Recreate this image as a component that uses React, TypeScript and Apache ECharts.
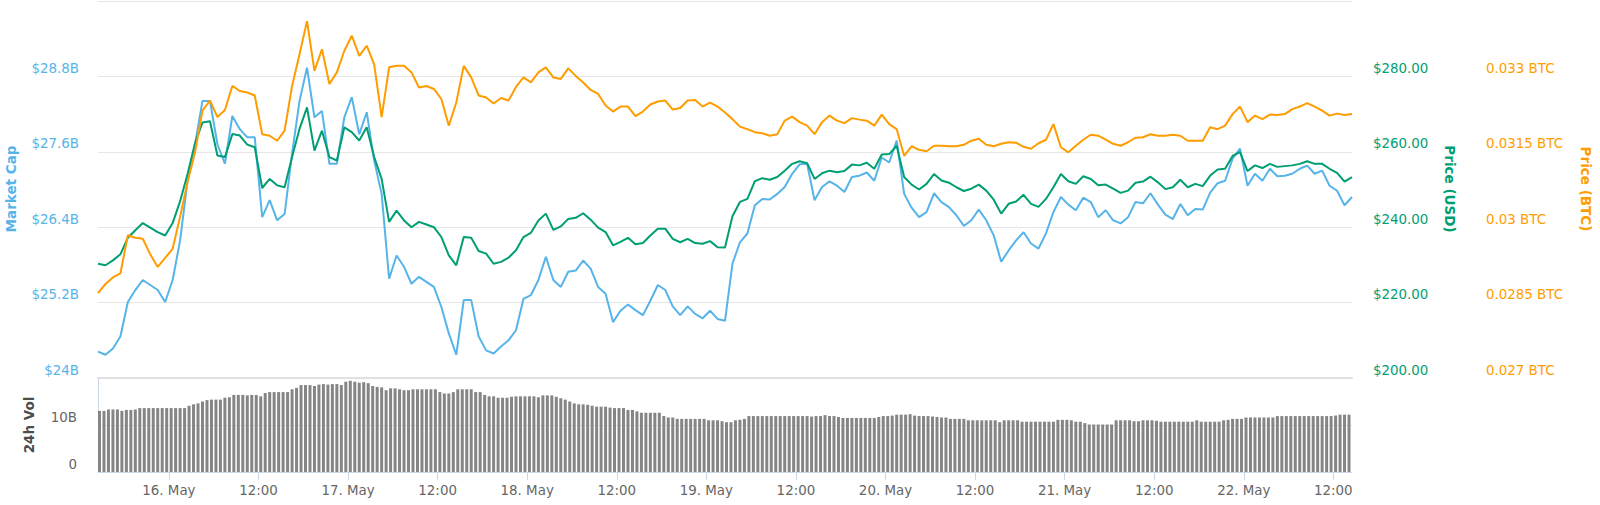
import React, { useEffect, useRef } from "react";
import * as echarts from "echarts";

// x values are hours relative to 16 May 00:00
const LINE_START_HOUR = -9.5;
const LINE_STEP_HOUR = 1;
const VOL_START_HOUR = -9.3;
const VOL_STEP_HOUR = 0.6;
const X_MIN = -9.5;
const X_MAX = 158.5;

const xTickHours = [0, 12, 24, 36, 48, 60, 72, 84, 96, 108, 120, 132, 144, 156];
const xTickLabels = [
  "16. May", "12:00", "17. May", "12:00", "18. May", "12:00", "19. May",
  "12:00", "20. May", "12:00", "21. May", "12:00", "22. May", "12:00",
];

// Market cap, billions USD (hourly)
const marketCap = [
  24.42, 24.37, 24.47, 24.66, 25.21, 25.4, 25.56, 25.48, 25.4, 25.21,
  25.56, 26.19, 27.14, 27.72, 28.41, 28.41, 27.72, 27.41, 28.17, 27.96,
  27.83, 27.83, 26.56, 26.83, 26.51, 26.61, 27.57, 28.41, 28.94, 28.15,
  28.25, 27.41, 27.41, 28.15, 28.47,
  27.88, 28.23, 27.46, 26.93, 25.58, 25.95, 25.77, 25.5, 25.61, 25.53,
  25.45, 25.13, 24.71, 24.37, 25.24, 25.24, 24.66, 24.44, 24.39, 24.5,
  24.6, 24.76, 25.26, 25.32, 25.56, 25.93, 25.56, 25.45, 25.69, 25.71,
  25.87, 25.74, 25.45, 25.34,
  24.89, 25.07, 25.17, 25.08, 25.0, 25.23, 25.48, 25.4, 25.14, 25.0,
  25.14, 25.02, 24.95, 25.07, 24.94, 24.91, 25.82, 26.16, 26.3, 26.75,
  26.85, 26.84, 26.93, 27.04, 27.25, 27.4, 27.41, 26.83, 27.04, 27.13,
  27.06, 26.96, 27.2, 27.22,
  27.27, 27.14, 27.51, 27.43, 27.78, 26.93, 26.71, 26.56, 26.64, 26.94,
  26.8, 26.72, 26.59, 26.42, 26.51, 26.68, 26.51, 26.27, 25.85, 26.03,
  26.19, 26.32, 26.14, 26.06, 26.3, 26.64, 26.88, 26.76, 26.67, 26.87,
  26.8, 26.56, 26.67, 26.51,
  26.46, 26.56, 26.8, 26.78, 26.94, 26.76, 26.6, 26.53, 26.77, 26.59,
  26.69, 26.68, 26.95, 27.1, 27.14, 27.49, 27.65, 27.06, 27.25, 27.14,
  27.33, 27.21, 27.22, 27.25, 27.33, 27.38, 27.25, 27.3, 27.06, 26.98,
  26.75, 26.88,
];

// Price in USD (hourly)
const priceUsd = [
  230.3, 229.9, 231.2, 232.8, 237.2, 239.2, 241.1, 239.9, 238.7, 237.8,
  241.1, 246.9, 254.1, 262.3, 267.8, 268.1, 259.0, 258.6, 264.7, 264.3,
  261.9, 261.2, 250.4, 252.8, 251.1, 250.6, 258.6, 266.1, 271.8, 260.3,
  265.6, 258.6, 257.7, 266.5, 265.2,
  263.0, 266.5, 258.6, 252.8, 241.4, 244.4, 241.8, 240.0, 241.4, 240.7,
  240.0, 237.4, 232.5, 229.9, 237.4, 237.2, 233.7, 233.0, 230.3, 230.8,
  231.9, 233.9, 237.4, 238.5, 241.8, 243.6, 239.3, 240.2, 242.2, 242.5,
  243.7, 242.0, 239.9, 238.7,
  235.2, 236.1, 237.2, 235.5, 235.8, 237.8, 239.6, 239.6, 236.9, 236.0,
  236.9, 235.8, 235.6, 236.3, 234.7, 234.6, 242.9, 246.7, 247.5, 252.2,
  253.0, 252.6, 253.3, 255.0, 256.8, 257.5, 257.0, 252.8, 254.3, 255.0,
  254.6, 254.9, 256.6, 256.4,
  257.1, 255.5, 259.3, 259.4, 261.6, 253.3, 251.3, 250.0, 251.5, 254.1,
  252.4, 251.8, 250.6, 249.6, 250.2, 251.3, 249.7, 247.3, 243.6, 246.2,
  246.8, 248.6, 246.2, 245.4, 247.5, 250.6, 254.1, 252.2, 251.5, 253.5,
  252.8, 251.1, 251.3, 250.2,
  249.1, 249.7, 251.8, 252.1, 253.4, 251.9, 250.1, 250.6, 252.6, 250.6,
  251.5, 250.9, 253.7, 255.3, 255.5, 258.9, 259.9, 254.9, 256.4, 255.7,
  256.8, 256.0, 256.2, 256.4, 256.8, 257.5, 256.8, 256.8, 255.5, 254.4,
  252.1, 253.3,
];

// Price in BTC (hourly)
const priceBtc = [
  0.02869, 0.02887, 0.029, 0.02908, 0.02984, 0.02979, 0.02977, 0.02946, 0.02921, 0.02939,
  0.02957, 0.03021, 0.0309, 0.03149, 0.03232, 0.03252, 0.03219, 0.03233, 0.03281, 0.03271,
  0.03268, 0.03262, 0.03185, 0.03182, 0.03172, 0.03192, 0.03281, 0.03344, 0.0341, 0.03311,
  0.03354, 0.03285, 0.03308, 0.03351, 0.03381,
  0.03341, 0.03361, 0.03324, 0.03219, 0.03318, 0.03321, 0.03321, 0.03308, 0.03278, 0.03281,
  0.03275, 0.03255, 0.03202, 0.03248, 0.03321, 0.03298, 0.03262, 0.03258, 0.03246, 0.03257,
  0.03252, 0.03279, 0.03298, 0.03288, 0.03308, 0.03318, 0.03298, 0.03295, 0.03316, 0.03301,
  0.03288, 0.03273, 0.03265, 0.03242,
  0.0323, 0.0324, 0.0324, 0.03221, 0.0323, 0.03244, 0.0325, 0.03252, 0.03234, 0.03237,
  0.03252, 0.03253, 0.0324, 0.03248, 0.0324, 0.03228, 0.03215, 0.032, 0.03195, 0.03189,
  0.03187, 0.03182, 0.03185, 0.03212, 0.0322, 0.03209, 0.03202, 0.03185, 0.03209, 0.03222,
  0.03212, 0.03207, 0.03217, 0.03214,
  0.03212, 0.03202, 0.03224, 0.03205, 0.03195, 0.03142, 0.03161, 0.03154, 0.03151, 0.03162,
  0.03162, 0.03161, 0.03161, 0.03164, 0.03172, 0.03176, 0.03164, 0.03161, 0.03166, 0.03169,
  0.03168, 0.0316, 0.03156, 0.03167, 0.03174, 0.03205, 0.03159, 0.03149, 0.03162, 0.03174,
  0.03184, 0.03182, 0.03174, 0.03166,
  0.03162, 0.03169, 0.03178, 0.03179, 0.03185, 0.03182, 0.03182, 0.03184, 0.03182, 0.03172,
  0.03172, 0.03172, 0.03199, 0.03195, 0.03202, 0.03225, 0.0324, 0.03209, 0.03222, 0.03215,
  0.03224, 0.03223, 0.03225, 0.03235, 0.0324, 0.03247, 0.0324, 0.03232, 0.03222, 0.03226,
  0.03223, 0.03225,
];

// 24h volume, billions (every 36 minutes)
const volume24h = [
  13.0, 13.0, 13.3, 13.3, 13.3, 13.0, 13.2, 13.2, 13.3, 13.6,
  13.6, 13.6, 13.6, 13.6, 13.6, 13.6, 13.6, 13.6, 13.6, 13.6,
  14.1, 14.4, 14.6, 15.0, 15.3, 15.4, 15.4, 15.4, 15.8, 15.9,
  16.4, 16.4, 16.4, 16.3, 16.4, 16.4, 16.1, 16.8, 17.0, 17.0,
  17.0, 17.0, 17.0, 17.6, 17.9, 18.5, 18.5, 18.5, 18.3, 18.6,
  18.7, 18.6, 18.7, 18.7, 18.5, 19.2, 19.4, 19.2, 19.0, 19.1,
  18.9, 18.3, 18.1, 18.0, 17.4, 17.8, 17.8, 17.6, 17.4, 17.4,
  17.6, 17.6, 17.6, 17.6, 17.6, 17.6, 17.0, 16.7, 16.7, 17.0,
  17.6, 17.6, 17.6, 17.6, 17.0, 17.0, 16.4, 16.1, 16.1, 15.8,
  15.8, 15.8, 16.0, 16.1, 16.1, 16.1, 16.1, 16.1, 15.9, 16.3,
  16.3, 16.3, 16.0, 15.7, 15.4, 15.0, 14.6, 14.4, 14.4, 14.3,
  14.1, 13.9, 13.9, 13.9, 13.7, 13.6, 13.6, 13.6, 13.2, 13.2,
  12.9, 12.6, 12.6, 12.6, 12.6, 12.6, 11.9, 11.6, 11.6, 11.3,
  11.3, 11.3, 11.3, 11.3, 11.3, 11.3, 11.0, 11.0, 11.0, 10.8,
  10.6, 10.6, 11.0, 11.1, 11.3, 11.9, 11.9, 11.9, 11.9, 11.9,
  11.9, 11.9, 11.9, 11.9, 11.9, 11.9, 11.9, 11.9, 11.9, 11.8,
  11.9, 11.9, 12.1, 11.9, 11.9, 11.7, 11.5, 11.5, 11.5, 11.5,
  11.5, 11.5, 11.5, 11.5, 11.7, 11.9, 11.9, 12.0, 12.2, 12.2,
  12.2, 12.3, 12.0, 11.9, 11.9, 11.9, 11.8, 11.7, 11.6, 11.6,
  11.3, 11.3, 11.3, 11.3, 11.0, 11.0, 11.0, 11.0, 11.0, 11.0,
  11.0, 10.6, 11.0, 11.0, 11.0, 11.0, 10.7, 10.7, 10.7, 10.7,
  10.7, 10.7, 10.7, 10.7, 11.1, 11.1, 11.1, 11.0, 10.7, 10.7,
  10.4, 10.1, 10.1, 10.1, 10.1, 10.1, 10.1, 11.0, 11.0, 11.0,
  11.0, 10.8, 10.8, 11.0, 11.0, 11.0, 10.9, 10.7, 10.7, 10.7,
  10.7, 10.7, 10.7, 10.7, 10.7, 11.0, 10.7, 10.7, 10.7, 10.7,
  10.7, 11.0, 11.1, 11.3, 11.3, 11.3, 11.6, 11.6, 11.6, 11.6,
  11.6, 11.6, 11.6, 11.9, 11.9, 11.9, 11.9, 11.9, 11.9, 11.9,
  11.9, 11.9, 11.9, 11.9, 11.9, 11.9, 12.0, 12.2, 12.2, 12.2,
];

const FONT = "'DejaVu Sans', Verdana, sans-serif";
const BLUE = "#56b4e9";
const GREEN = "#009e73";
const ORANGE = "#ff9d00";
const GRID_COLOR = "#e6e6e6";
const AXIS_COLOR = "#ccd6eb";
const LABEL_SIZE = 13.4;

function toPairs(values: number[], start: number, step: number) {
  return values.map((v, i) => [start + i * step, v]);
}

export default function App() {
  const ref = useRef<HTMLDivElement>(null);

  useEffect(() => {
    if (!ref.current) return;
    const chart = echarts.init(ref.current, undefined, { renderer: "svg" });

    const yLabelBase = {
      fontSize: LABEL_SIZE,
      fontFamily: FONT,
      verticalAlign: "bottom" as const,
      lineHeight: 16,
      showMaxLabel: false,
    };

    const titleStyle = (text: string, fill: string) => ({
      text,
      fill,
      font: `bold 13.5px ${FONT}`,
      align: "center",
      verticalAlign: "middle",
      textAlign: "center",
      textVerticalAlign: "middle",
    });

    const option: any = {
      animation: false,
      textStyle: { fontFamily: FONT },
      grid: [
        { left: 98, right: 248, top: 1, height: 377 },
        { left: 98, right: 248, top: 378, height: 94 },
      ],
      xAxis: [
        {
          type: "value",
          gridIndex: 0,
          min: X_MIN,
          max: X_MAX,
          axisLine: { show: true, onZero: false, lineStyle: { color: "#e0e0e0", width: 2 } },
          axisTick: { show: false },
          axisLabel: { show: false },
          splitLine: { show: false },
        },
        {
          type: "value",
          gridIndex: 1,
          min: X_MIN,
          max: X_MAX,
          axisLine: { show: true, onZero: false, lineStyle: { color: AXIS_COLOR } },
          axisTick: {
            show: true,
            customValues: xTickHours,
            length: 8,
            lineStyle: { color: AXIS_COLOR },
          },
          axisLabel: {
            customValues: xTickHours,
            color: "#666666",
            fontSize: LABEL_SIZE,
            fontFamily: FONT,
            margin: 12,
            formatter: (v: number) => {
              const idx = xTickHours.indexOf(Math.round(v));
              return idx >= 0 ? xTickLabels[idx] : "";
            },
          },
          splitLine: { show: false },
        },
      ],
      yAxis: [
        {
          type: "value",
          gridIndex: 0,
          position: "left",
          min: 24,
          max: 30,
          interval: 1.2,
          axisLine: { show: false, onZero: false },
          axisTick: { show: false },
          splitLine: { show: true, lineStyle: { color: GRID_COLOR, width: 1 } },
          axisLabel: {
            ...yLabelBase,
            color: BLUE,
            margin: 19,
            formatter: (v: number) => "$" + +v.toFixed(1) + "B",
          },
        },
        {
          type: "value",
          gridIndex: 0,
          position: "right",
          offset: 0,
          min: 200,
          max: 300,
          interval: 20,
          axisLine: { show: false, onZero: false },
          axisTick: { show: false },
          splitLine: { show: false },
          axisLabel: {
            ...yLabelBase,
            color: GREEN,
            margin: 21,
            formatter: (v: number) => "$" + v.toFixed(2),
          },
        },
        {
          type: "value",
          gridIndex: 0,
          position: "right",
          offset: 113,
          min: 0.027,
          max: 0.0345,
          interval: 0.0015,
          axisLine: { show: false, onZero: false },
          axisTick: { show: false },
          splitLine: { show: false },
          axisLabel: {
            ...yLabelBase,
            color: ORANGE,
            margin: 21,
            formatter: (v: number) => +v.toFixed(4) + " BTC",
          },
        },
        {
          type: "value",
          gridIndex: 1,
          position: "left",
          min: 0,
          max: 20,
          interval: 10,
          axisLine: { show: true, onZero: false, lineStyle: { color: AXIS_COLOR } },
          axisTick: { show: false },
          splitLine: { show: true, lineStyle: { color: GRID_COLOR } },
          axisLabel: {
            ...yLabelBase,
            color: "#666666",
            margin: 21,
            formatter: (v: number) => (v === 0 ? "0" : v + "B"),
          },
        },
      ],
      graphic: [
        { type: "text", x: 11, y: 189, rotation: Math.PI / 2, style: titleStyle("Market Cap", BLUE) },
        { type: "text", x: 29, y: 425, rotation: Math.PI / 2, style: titleStyle("24h Vol", "#4d4d4d") },
        { type: "text", x: 1450, y: 189, rotation: -Math.PI / 2, style: titleStyle("Price (USD)", GREEN) },
        { type: "text", x: 1586, y: 189, rotation: -Math.PI / 2, style: titleStyle("Price (BTC)", ORANGE) },
      ],
      series: [
        {
          name: "Market Cap",
          type: "line",
          xAxisIndex: 0,
          yAxisIndex: 0,
          data: toPairs(marketCap, LINE_START_HOUR, LINE_STEP_HOUR),
          showSymbol: false,
          lineStyle: { color: BLUE, width: 2 },
          itemStyle: { color: BLUE },
        },
        {
          name: "Price (USD)",
          type: "line",
          xAxisIndex: 0,
          yAxisIndex: 1,
          data: toPairs(priceUsd, LINE_START_HOUR, LINE_STEP_HOUR),
          showSymbol: false,
          lineStyle: { color: GREEN, width: 2 },
          itemStyle: { color: GREEN },
        },
        {
          name: "Price (BTC)",
          type: "line",
          xAxisIndex: 0,
          yAxisIndex: 2,
          data: toPairs(priceBtc, LINE_START_HOUR, LINE_STEP_HOUR),
          showSymbol: false,
          lineStyle: { color: ORANGE, width: 2 },
          itemStyle: { color: ORANGE },
        },
        {
          name: "24h Vol",
          type: "bar",
          xAxisIndex: 1,
          yAxisIndex: 3,
          data: toPairs(volume24h, VOL_START_HOUR, VOL_STEP_HOUR),
          barWidth: 3,
          itemStyle: { color: "#858585" },
        },
      ],
    };

    chart.setOption(option);
    return () => chart.dispose();
  }, []);

  return (
    <div
      ref={ref}
      style={{ position: "fixed", left: 0, top: 0, width: 1600, height: 505, background: "#fff" }}
    />
  );
}
